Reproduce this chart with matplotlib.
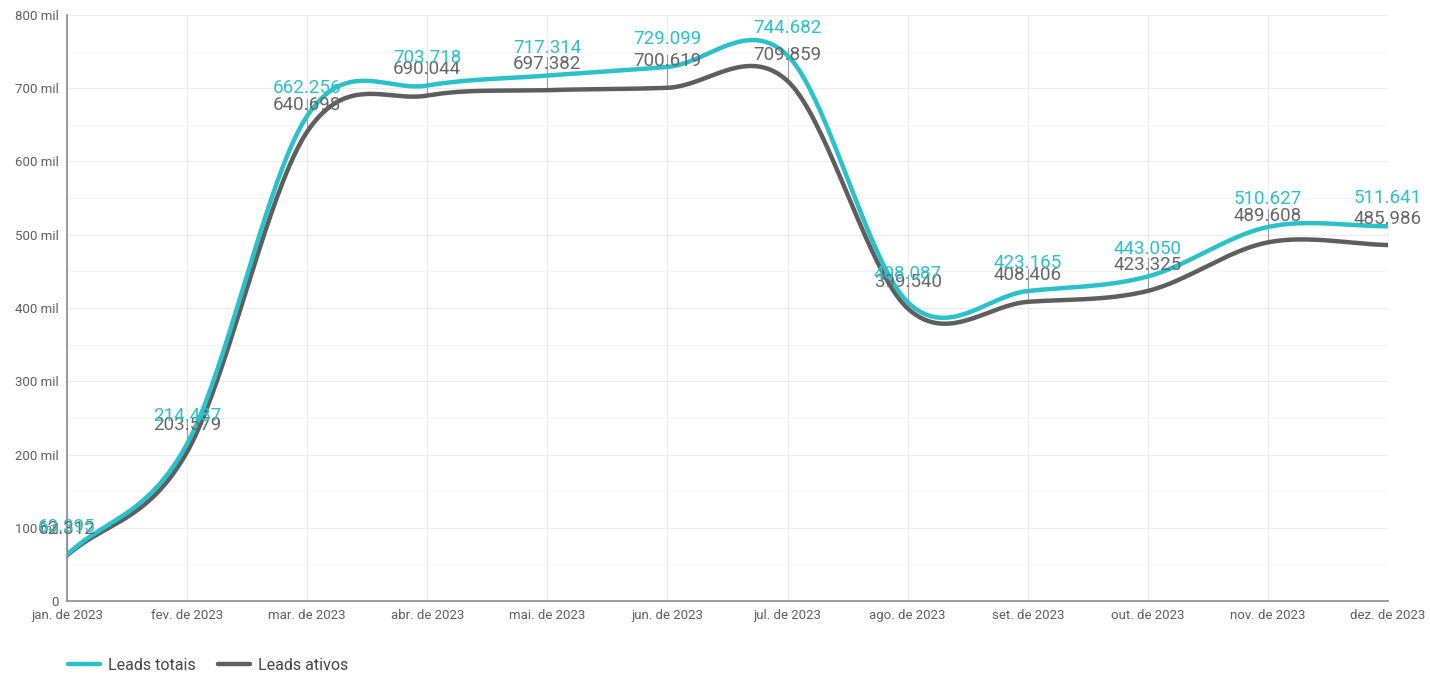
import numpy as np
import matplotlib.pyplot as plt
from matplotlib.ticker import MultipleLocator, FuncFormatter

plt.rcParams['font.family'] = ['Roboto', 'DejaVu Sans']

months = ["jan. de 2023", "fev. de 2023", "mar. de 2023", "abr. de 2023",
          "mai. de 2023", "jun. de 2023", "jul. de 2023", "ago. de 2023",
          "set. de 2023", "out. de 2023", "nov. de 2023", "dez. de 2023"]
leads_totais = [63395, 214487, 662256, 703718, 717314, 729099,
                744682, 408087, 423165, 443050, 510627, 511641]
leads_ativos = [62312, 203579, 640698, 690044, 697382, 700619,
                709859, 399540, 408406, 423325, 489608, 485986]

teal = "#2ac1ca"
gray = "#5e5e5e"


def smooth(x, y, n=40):
    # catmull-rom style cubic through the points, for the smooth line
    x = np.asarray(x, float)
    y = np.asarray(y, float)
    k = len(x)
    m = np.zeros(k)
    m[1:-1] = (y[2:] - y[:-2]) / (x[2:] - x[:-2])
    m[0] = (y[1] - y[0]) / (x[1] - x[0])
    m[-1] = (y[-1] - y[-2]) / (x[-1] - x[-2])
    xs, ys = [], []
    for i in range(k - 1):
        h = x[i + 1] - x[i]
        t = np.linspace(0, 1, n, endpoint=False)
        h00 = 2 * t ** 3 - 3 * t ** 2 + 1
        h10 = t ** 3 - 2 * t ** 2 + t
        h01 = -2 * t ** 3 + 3 * t ** 2
        h11 = t ** 3 - t ** 2
        xs.extend(x[i] + t * h)
        ys.extend(h00 * y[i] + h10 * h * m[i] + h01 * y[i + 1] + h11 * h * m[i + 1])
    xs.append(x[-1])
    ys.append(y[-1])
    return np.array(xs), np.array(ys)


def fmt(v):
    return f"{v:,}".replace(",", ".")


x = np.arange(len(months))

fig = plt.figure(figsize=(14.3, 6.74), dpi=100)
ax = fig.add_axes([67 / 1430, 73 / 674, 1321 / 1430, 586 / 674])

xs, ys = smooth(x, leads_ativos)
ax.plot(xs, ys, color=gray, lw=3.2, solid_capstyle="round", zorder=3, label="Leads ativos")
xs, ys = smooth(x, leads_totais)
ax.plot(xs, ys, color=teal, lw=3.2, solid_capstyle="round", zorder=4, label="Leads totais")

for i in range(len(months)):
    ax.plot([x[i], x[i]], [leads_ativos[i], leads_ativos[i] + 45000],
            color="#9a9a9a", lw=0.8, zorder=2)
    ax.annotate(fmt(leads_totais[i]), (x[i], leads_totais[i]), xytext=(0, 20),
                textcoords="offset points", ha="center", va="center",
                fontsize=13.5, color=teal, zorder=6)
    ax.annotate(fmt(leads_ativos[i]), (x[i], leads_ativos[i]), xytext=(0, 19),
                textcoords="offset points", ha="center", va="center",
                fontsize=13.5, color="#666666", zorder=5)

ax.set_xlim(0, len(months) - 1)
ax.set_ylim(0, 800000)
ax.set_xticks(x)
ax.set_xticklabels(months)
ax.yaxis.set_major_locator(MultipleLocator(100000))
ax.yaxis.set_minor_locator(MultipleLocator(50000))
ax.yaxis.set_major_formatter(FuncFormatter(lambda v, p: "0" if v == 0 else f"{int(v / 1000)} mil"))
ax.tick_params(axis="both", which="both", length=0, labelsize=9.5, colors="#5f5f5f", pad=6)
ax.grid(True, which="major", color="#ececec", lw=0.8)
ax.grid(True, which="minor", axis="y", color="#f4f4f4", lw=0.8)
ax.set_axisbelow(True)
for s in ["top", "right"]:
    ax.spines[s].set_visible(False)
ax.spines["left"].set_color("#8a8a8a")
ax.spines["bottom"].set_color("#8a8a8a")
ax.spines["left"].set_linewidth(1.2)
ax.spines["bottom"].set_linewidth(1.2)

handles, labels = ax.get_legend_handles_labels()
fig.legend(handles[::-1], labels[::-1], loc="center left", bbox_to_anchor=(68 / 1430, 9 / 674),
           ncol=2, frameon=False, fontsize=11.5, handlelength=2.0, handletextpad=0.5,
           columnspacing=1.4, borderpad=0, borderaxespad=0, labelcolor="#444444")

plt.savefig("out.png", dpi=100)
